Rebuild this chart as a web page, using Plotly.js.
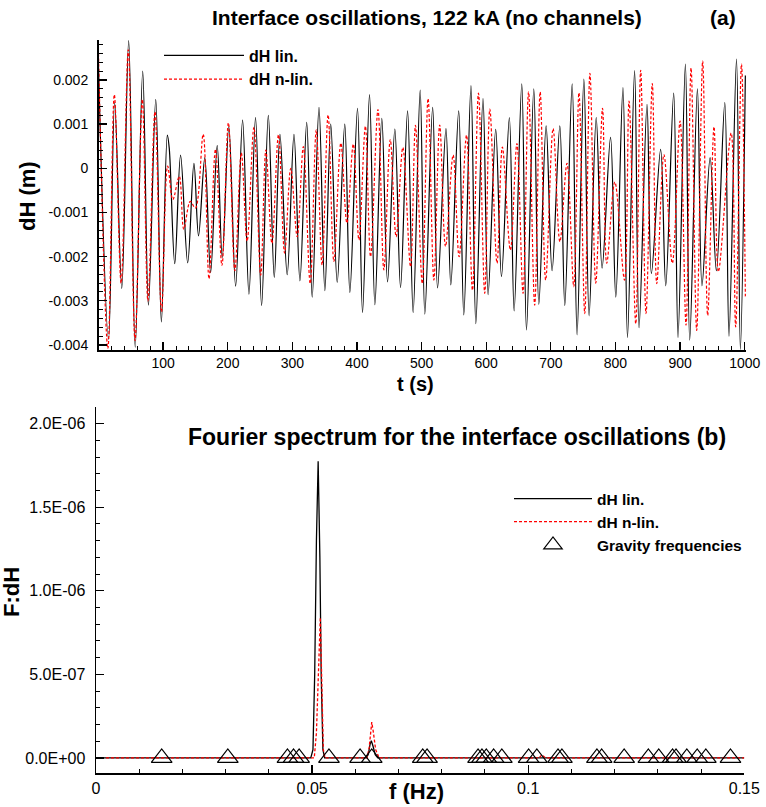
<!DOCTYPE html>
<html>
<head>
<meta charset="utf-8">
<script src="https://cdn.plot.ly/plotly-3.0.1.min.js"></script>
<style>html,body{margin:0;padding:0;background:#fff;}#chart{width:766px;height:807px;}</style>
</head>
<body>
<div id="chart"></div>
<script>
// ---------- Panel (a): interface oscillations (extrema) ----------
const tLin = [0, 15.5, 25, 36, 46.7, 56.8, 68.4, 77.3, 88.6, 97.3, 106.5, 109.5, 118, 127, 138, 147.7, 154.8, 164.5, 173.5, 183.7, 191.5, 201.7, 212.2, 223, 232.8, 243, 252.4, 262.8, 272, 280.8, 292, 302.5, 311.7, 322.2, 330.7, 341.2, 350.3, 359.4, 369.4, 381.1, 389, 400.8, 408.6, 419.4, 427.7, 438.4, 447.3, 458.6, 467.4, 478.3, 486.9, 497.8, 505, 517.1, 524.7, 537.7, 545.2, 557.4, 565.3, 576.4, 583.9, 595, 602.9, 614.7, 623.6, 635.8, 643.2, 655, 662.3, 673.6, 681.4, 692.7, 701.9, 713.9, 721.6, 733, 740.6, 751.1, 759.2, 770.2, 779.3, 792.4, 800.5, 811.6, 818.6, 829.6, 836.5, 848.8, 855.6, 869.9, 877.8, 890.1, 896.8, 908.2, 914.9, 926.8, 933.9, 946.5, 956.2, 969.2, 975.7, 987.3, 993.3, 1001];
const dHLin = [0.0023, -0.00387, 0.00149, -0.00272, 0.00289, -0.00405, 0.0022, -0.0031, 0.00156, -0.00348, 0.00075, 0.00045, -0.00216, 0.0003, -0.00214, 0.00011, -0.00153, 0.00024, -0.00236, 0.00052, -0.00202, 0.00094, -0.00267, 0.00109, -0.00285, 0.00115, -0.00311, 0.0012, -0.00247, 0.00077, -0.00241, 0.00077, -0.00255, 0.00104, -0.00292, 0.00138, -0.00277, 0.0010, -0.00258, 0.0010, -0.00281, 0.00136, -0.00327, 0.00167, -0.00309, 0.00113, -0.00257, 0.00089, -0.0027, 0.0013, -0.00327, 0.00177, -0.0033, 0.00138, -0.00271, 0.0009, -0.00264, 0.0013, -0.00332, 0.00187, -0.00352, 0.00158, -0.00286, 0.00088, -0.00245, 0.00115, -0.00323, 0.00191, -0.00366, 0.0018, -0.00308, 0.00096, -0.00232, 0.00096, -0.00311, 0.00191, -0.00377, 0.00202, -0.00334, 0.00115, -0.00226, 0.0007, -0.00292, 0.00183, -0.00383, 0.00221, -0.00361, 0.00145, -0.00238, 0.00043, -0.00266, 0.0017, -0.00383, 0.00236, -0.00389, 0.0018, -0.00266, 0.00024, -0.00232, 0.00149, -0.0038, 0.00247, -0.0041, 0.0021];

const tNonLin = [0, 14.5, 24.5, 35, 46.1, 56.5, 67.8, 76.5, 87.4, 97.5, 107, 115, 125, 132, 142, 150, 162, 171, 181, 191, 201, 211, 221, 230, 240.5, 251, 259, 268.4, 278.5, 288, 297.5, 307.5, 317, 327.6, 337, 346, 355.3, 364.3, 375, 384.4, 394.3, 403, 413, 421, 432.5, 441.6, 451.5, 460.6, 471, 482.9, 490.5, 501, 510, 519, 528, 537, 548.8, 558, 569.5, 578.7, 588, 597.7, 605.6, 616.7, 625, 637.4, 647.5, 657, 665.5, 675, 683.5, 692, 703.5, 714, 725, 735.5, 743.5, 752.5, 760.5, 769.5, 780, 786.5, 799, 814, 821, 831.4, 839, 847.3, 857, 863.9, 875, 888, 900, 909.2, 917, 925.7, 935, 942.7, 952.5, 959.3, 979, 986, 995, 1001];
const dHNonLin = [0.0026, -0.00408, 0.00167, -0.0026, 0.00268, -0.0039, 0.00156, -0.003, 0.00128, -0.00325, 0.00005, -0.00071, -0.00018, -0.00138, -0.00075, -0.0009, 0.00077, -0.0025, 0.00043, -0.0022, 0.00103, -0.00232, 0.00035, -0.00165, 0.00093, -0.00242, 0.00041, -0.0017, 0.00076, -0.00192, 0.0, -0.00155, 0.00049, -0.00261, 0.00087, -0.00219, 0.00121, -0.00211, 0.00057, -0.00124, 0.00055, -0.00162, 0.00095, -0.002, 0.00133, -0.0023, 0.00065, -0.00155, 0.00047, -0.00223, 0.00097, -0.00261, 0.00158, -0.00253, 0.00098, -0.00177, 0.0003, -0.002, 0.00075, -0.00276, 0.0017, -0.00283, 0.00134, -0.00215, 0.00048, -0.00185, 0.00056, -0.00283, 0.00173, -0.0031, 0.00173, -0.00253, 0.0009, -0.00166, 0.00011, -0.00268, 0.00171, -0.00329, 0.00215, -0.0026, 0.00136, -0.00215, -0.00031, -0.00253, 0.00152, -0.00352, 0.00222, -0.00329, 0.00192, -0.00261, 0.00031, -0.00215, 0.00107, -0.00355, 0.00227, -0.00367, 0.00243, -0.00333, 0.00094, -0.00234, 0.0008, -0.00359, 0.00236, -0.0029];

const tTickVals = [100, 200, 300, 400, 500, 600, 700, 800, 900, 1000];
const tTickText = ['100', '200', '300', '400', '500', '600', '700', '800', '900', '1000'];
const dHTickVals = [-0.004, -0.003, -0.002, -0.001, 0, 0.001, 0.002];
const dHTickText = ['-0.004', '-0.003', '-0.002', '-0.001', '0', '0.001', '0.002'];

// ---------- Panel (b): Fourier spectrum ----------
const fLin = [0, 0.0250, 0.0256, 0.0262, 0.0497, 0.0502, 0.0506, 0.0510, 0.0514, 0.0518, 0.0521, 0.0525, 0.0529, 0.0625, 0.0630, 0.0634, 0.0637, 0.0641, 0.0646, 0.0652, 0.15];
const FLin = [0, 0, 4e-9, 0, 0, 5e-8, 5e-7, 1.3e-6, 1.775e-6, 1.2e-6, 5e-7, 5e-8, 0, 0, 2e-8, 8e-8, 1.04e-7, 7e-8, 2e-8, 0, 0];
const fNonLin = [0, 0.0250, 0.0256, 0.0262, 0.0505, 0.0510, 0.0515, 0.0519, 0.0522, 0.0526, 0.0530, 0.0627, 0.0632, 0.0635, 0.0638, 0.0642, 0.0647, 0.0655, 0.1025, 0.1032, 0.1040, 0.15];
const FNonLin = [0, 0, 4e-9, 0, 0, 1.5e-7, 5.5e-7, 8.4e-7, 5e-7, 5e-8, 0, 0, 6e-8, 1.6e-7, 2.14e-7, 1.5e-7, 5e-8, 0, 0, 2e-8, 0, 0];
const gravityF = [0.0152, 0.0305, 0.0443, 0.0457, 0.0470, 0.0539, 0.0611, 0.0638, 0.0756, 0.0766, 0.0884, 0.0893, 0.0903, 0.0920, 0.0939, 0.1001, 0.1020, 0.1069, 0.1078, 0.1159, 0.1170, 0.1222, 0.1278, 0.1302, 0.1334, 0.1342, 0.1367, 0.1391, 0.1411, 0.1468];
const gravityY = [0, 0, 0, 0, 0, 0, 0, 0, 0, 0, 0, 0, 0, 0, 0, 0, 0, 0, 0, 0, 0, 0, 0, 0, 0, 0, 0, 0, 0, 0];

const fTickVals = [0, 0.05, 0.1, 0.15];
const fTickText = ['0', '0.05', '0.1', '0.15'];
const FTickVals = [0, 5e-7, 1e-6, 1.5e-6, 2e-6];
const FTickText = ['0.0E+00', '5.0E-07', '1.0E-06', '1.5E-06', '2.0E-06'];

// ---------- layout helpers ----------
const W = 766, H = 807;
const FONT = '"Liberation Sans", Arial, Helvetica, sans-serif';
const px = x => x / W;
const py = y => 1 - y / H;

function axisBase(extra) {
  return Object.assign({
    showline: true, linecolor: 'black', linewidth: 1.5,
    ticks: 'inside', ticklen: 8, tickwidth: 1.3, tickcolor: 'black',
    tickmode: 'array', showgrid: false, zeroline: false,
    tickfont: {family: FONT, size: 14, color: 'black'}
  }, extra);
}

const traces = [
  {x: tLin, y: dHLin, type: 'scatter', mode: 'lines', name: 'dH lin.',
   line: {color: 'black', width: 1.2, shape: 'spline', smoothing: 1},
   xaxis: 'x', yaxis: 'y', legend: 'legend'},
  {x: tNonLin, y: dHNonLin, type: 'scatter', mode: 'lines', name: 'dH n-lin.',
   line: {color: 'red', width: 1.2, dash: '3px,2px', shape: 'spline', smoothing: 1},
   xaxis: 'x', yaxis: 'y', legend: 'legend'},
  {x: fLin, y: FLin, type: 'scatter', mode: 'lines', name: 'dH lin.',
   line: {color: 'black', width: 1.3},
   xaxis: 'x2', yaxis: 'y2', legend: 'legend2'},
  {x: fNonLin, y: FNonLin, type: 'scatter', mode: 'lines', name: 'dH n-lin.',
   line: {color: 'red', width: 1.3, dash: '3px,2px'},
   xaxis: 'x2', yaxis: 'y2', legend: 'legend2'},
  {x: gravityF, y: gravityY, type: 'scatter', mode: 'markers', name: 'Gravity frequencies',
   marker: {symbol: 'triangle-up-open', size: 18, color: 'black', line: {color: 'black', width: 1.2}},
   xaxis: 'x2', yaxis: 'y2', legend: 'legend2'}
];

const layout = {
  width: W, height: H,
  margin: {l: 0, r: 0, t: 0, b: 0},
  paper_bgcolor: 'white', plot_bgcolor: 'white',
  font: {family: FONT, color: 'black'},
  showlegend: true,
  xaxis: axisBase({domain: [px(98.5), px(746)], range: [0, 1002], anchor: 'y',
    tickvals: tTickVals, ticktext: tTickText,
    minor: {ticks: 'inside', dtick: 20, tick0: 0, ticklen: 4, tickwidth: 1, tickcolor: 'black', showgrid: false}}),
  yaxis: axisBase({domain: [py(350), py(40)], range: [-0.004114, 0.002905], anchor: 'x',
    tickvals: dHTickVals, ticktext: dHTickText, ticklabelstandoff: 6,
    minor: {ticks: 'inside', dtick: 0.0002, tick0: 0, ticklen: 4, tickwidth: 1, tickcolor: 'black', showgrid: false}}),
  xaxis2: axisBase({domain: [px(96), px(744.3)], range: [0, 0.15], anchor: 'y2',
    tickvals: fTickVals, ticktext: fTickText, tickfont: {family: FONT, size: 16, color: 'black'},
    minor: {ticks: 'inside', dtick: 0.01, tick0: 0, ticklen: 4, tickwidth: 1, tickcolor: 'black', showgrid: false}}),
  yaxis2: axisBase({domain: [py(773), py(407)], range: [-9e-8, 2.1e-6], anchor: 'x2',
    tickvals: FTickVals, ticktext: FTickText, tickfont: {family: FONT, size: 16, color: 'black'}, ticklabelstandoff: 6,
    minor: {ticks: 'inside', dtick: 1e-7, tick0: 0, ticklen: 4, tickwidth: 1, tickcolor: 'black', showgrid: false}}),
  legend: {x: px(159), y: py(38.5), xanchor: 'left', yanchor: 'top', bgcolor: 'rgba(0,0,0,0)',
    borderwidth: 0, itemwidth: 80, tracegroupgap: 0,
    font: {family: FONT, size: 16, weight: 'bold', color: 'black'}},
  legend2: {x: px(509), y: py(482), xanchor: 'left', yanchor: 'top', bgcolor: 'rgba(0,0,0,0)',
    borderwidth: 0, itemwidth: 78, tracegroupgap: 0,
    font: {family: FONT, size: 15.5, weight: 'bold', color: 'black'}},
  annotations: [
    {text: 'Interface oscillations, 122 kA (no channels)', xref: 'paper', yref: 'paper',
     x: px(210), y: py(18), xanchor: 'left', yanchor: 'middle', showarrow: false,
     font: {family: FONT, size: 21, weight: 'bold', color: 'black'}},
    {text: '(a)', xref: 'paper', yref: 'paper',
     x: px(708), y: py(18), xanchor: 'left', yanchor: 'middle', showarrow: false,
     font: {family: FONT, size: 21, weight: 'bold', color: 'black'}},
    {text: 'Fourier spectrum for the interface oscillations (b)', xref: 'paper', yref: 'paper',
     x: px(186), y: py(437), xanchor: 'left', yanchor: 'middle', showarrow: false,
     font: {family: FONT, size: 23, weight: 'bold', color: 'black'}},
    {text: 't (s)', xref: 'paper', yref: 'paper', x: px(415), y: py(384),
     xanchor: 'center', yanchor: 'middle', showarrow: false, borderpad: 0,
     font: {family: FONT, size: 20, weight: 'bold', color: 'black'}},
    {text: 'dH (m)', xref: 'paper', yref: 'paper', x: px(27), y: py(196), textangle: -90,
     xanchor: 'center', yanchor: 'middle', showarrow: false,
     font: {family: FONT, size: 22, weight: 'bold', color: 'black'}},
    {text: 'f (Hz)', xref: 'paper', yref: 'paper', x: px(416), y: py(791),
     xanchor: 'center', yanchor: 'middle', showarrow: false,
     font: {family: FONT, size: 22, weight: 'bold', color: 'black'}},
    {text: 'F:dH', xref: 'paper', yref: 'paper', x: px(11), y: py(592), textangle: -90,
     xanchor: 'center', yanchor: 'middle', showarrow: false,
     font: {family: FONT, size: 22, weight: 'bold', color: 'black'}}
  ]
};

Plotly.newPlot('chart', traces, layout, {displayModeBar: false, staticPlot: true});
</script>
</body>
</html>
